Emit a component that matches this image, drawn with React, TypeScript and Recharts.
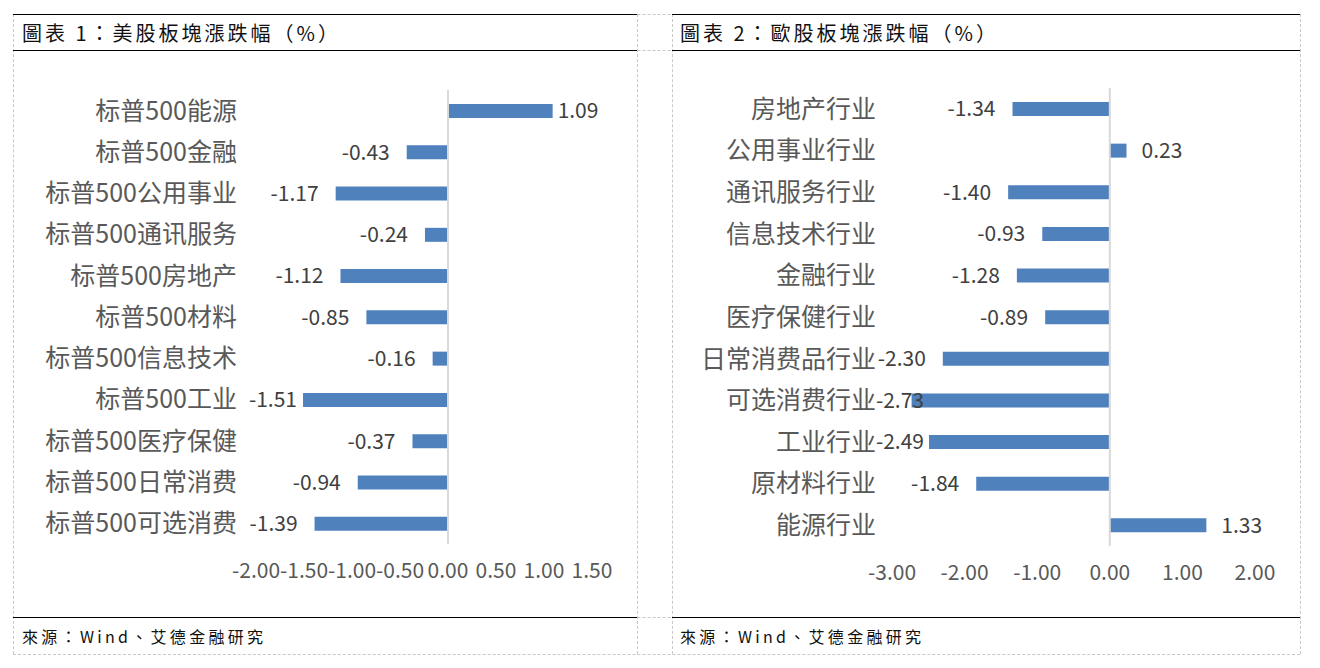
import React from "react";
import { BarChart, Bar, XAxis, YAxis, ReferenceLine, LabelList } from "recharts";

const usCategories = [
  "标普500能源",
  "标普500金融",
  "标普500公用事业",
  "标普500通讯服务",
  "标普500房地产",
  "标普500材料",
  "标普500信息技术",
  "标普500工业",
  "标普500医疗保健",
  "标普500日常消费",
  "标普500可选消费",
];
const usValues = [1.09, -0.43, -1.17, -0.24, -1.12, -0.85, -0.16, -1.51, -0.37, -0.94, -1.39];
const usTicks = [-2, -1.5, -1, -0.5, 0, 0.5, 1, 1.5];

const euCategories = [
  "房地产行业",
  "公用事业行业",
  "通讯服务行业",
  "信息技术行业",
  "金融行业",
  "医疗保健行业",
  "日常消费品行业",
  "可选消费行业",
  "工业行业",
  "原材料行业",
  "能源行业",
];
const euValues = [-1.34, 0.23, -1.4, -0.93, -1.28, -0.89, -2.3, -2.73, -2.49, -1.84, 1.33];
const euTicks = [-3, -2, -1, 0, 1, 2];

const title1 = "圖表 1：美股板塊漲跌幅（%）";
const title2 = "圖表 2：歐股板塊漲跌幅（%）";
const source = "來源：Wind、艾德金融研究";

const FONT = '"Noto Sans CJK SC", "Noto Sans", sans-serif';
const BAR_COLOR = "#4F81BD";
const LABEL_SIZE = 21;
const LABEL_W = 47;

const makeLabel = (posGap: number, negGap: number, minLeft: number) => (props: any) => {
  const { x, y, width, height, value } = props;
  const a = Number(x);
  const b = Number(x) + Number(width);
  const cy = Number(y) + Number(height) / 2;
  const v = Number(value);
  const end = v < 0 ? Math.min(a, b) : Math.max(a, b);
  const tx = v < 0 ? Math.max(end - negGap, minLeft + LABEL_W) : end + posGap;
  return (
    <text
      x={tx}
      y={cy}
      dy="0.35em"
      textAnchor={v < 0 ? "end" : "start"}
      fill="#404040"
      fontSize={LABEL_SIZE}
      fontFamily={FONT}
    >
      {v.toFixed(2)}
    </text>
  );
};

type PanelProps = {
  categories: string[];
  values: number[];
  ticks: number[];
  left: number;
  width: number;
  yWidth: number;
  yTickMargin: number;
  marginTop: number;
  marginRight: number;
  marginBottom: number;
  posGap: number;
  negGap: number;
  minLeft: number;
};

function Panel(p: PanelProps) {
  const data = p.categories.map((name, i) => ({ name, value: p.values[i] }));
  return (
    <div style={{ position: "absolute", left: p.left, top: 51 }}>
      <BarChart
        width={p.width}
        height={566}
        data={data}
        layout="vertical"
        margin={{ top: p.marginTop, right: p.marginRight, bottom: p.marginBottom, left: 0 }}
      >
        <XAxis
          type="number"
          domain={[p.ticks[0], p.ticks[p.ticks.length - 1]]}
          ticks={p.ticks}
          interval={0}
          tickFormatter={(v: number) => v.toFixed(2)}
          axisLine={false}
          tickLine={false}
          tickSize={0}
          tickMargin={19}
          height={42}
          tick={{ fill: "#595959", fontSize: 21, fontFamily: FONT }}
        />
        <YAxis
          type="category"
          dataKey="name"
          width={p.yWidth}
          interval={0}
          axisLine={false}
          tickLine={false}
          tickSize={0}
          tickMargin={p.yTickMargin}
          tick={{ fill: "#595959", fontSize: 25, fontFamily: FONT }}
        />
        <ReferenceLine x={0} stroke="#D9D9D9" strokeWidth={2} />
        <Bar dataKey="value" fill={BAR_COLOR} barSize={14} isAnimationActive={false}>
          <LabelList dataKey="value" content={makeLabel(p.posGap, p.negGap, p.minLeft)} />
        </Bar>
      </BarChart>
    </div>
  );
}

const hLine = (top: number, left: number, width: number, solid: boolean) => (
  <div
    style={{
      position: "absolute",
      top,
      left,
      width,
      height: 0,
      borderTop: solid ? "1.5px solid #000" : "1px dashed #C8C8C8",
    }}
  />
);
const vLine = (left: number) => (
  <div
    style={{
      position: "absolute",
      top: 14,
      left,
      width: 0,
      height: 640,
      borderLeft: "1px dashed #C8C8C8",
    }}
  />
);

const textStyle = (top: number, left: number, size: number, spacing: number): React.CSSProperties => ({
  position: "absolute",
  top,
  left,
  fontSize: size,
  letterSpacing: spacing,
  fontFamily: '"Noto Sans CJK TC", "Noto Sans CJK SC", sans-serif',
  color: "#111",
  whiteSpace: "nowrap",
  lineHeight: 1,
});

export default function App() {
  return (
    <div style={{ position: "absolute", left: 0, top: 0, width: 1320, height: 668, background: "#fff", overflow: "hidden" }}>
      {hLine(14, 13, 1287, false)}
      {hLine(50, 13, 1287, false)}
      {hLine(617, 13, 1287, false)}
      {hLine(654, 13, 1287, false)}
      {vLine(13)}
      {vLine(637)}
      {vLine(672)}
      {vLine(1300)}
      {hLine(14, 13, 624, true)}
      {hLine(50, 13, 624, true)}
      {hLine(617, 13, 624, true)}
      {hLine(14, 672, 628, true)}
      {hLine(50, 672, 628, true)}
      {hLine(617, 672, 628, true)}

      <div style={textStyle(23, 22, 20, 3)}>{title1}</div>
      <div style={textStyle(23, 680, 20, 3)}>{title2}</div>
      <div style={textStyle(628, 22, 16, 3.3)}>{source}</div>
      <div style={textStyle(628, 680, 16, 3.3)}>{source}</div>

      <Panel
        categories={usCategories}
        values={usValues}
        ticks={usTicks}
        left={13}
        width={624}
        yWidth={243}
        yTickMargin={19}
        marginTop={39}
        marginRight={45}
        marginBottom={31}
        posGap={5}
        negGap={17}
        minLeft={237}
      />
      <Panel
        categories={euCategories}
        values={euValues}
        ticks={euTicks}
        left={672}
        width={628}
        yWidth={220}
        yTickMargin={16}
        marginTop={37}
        marginRight={45}
        marginBottom={29}
        posGap={15}
        negGap={17}
        minLeft={205}
      />
    </div>
  );
}
